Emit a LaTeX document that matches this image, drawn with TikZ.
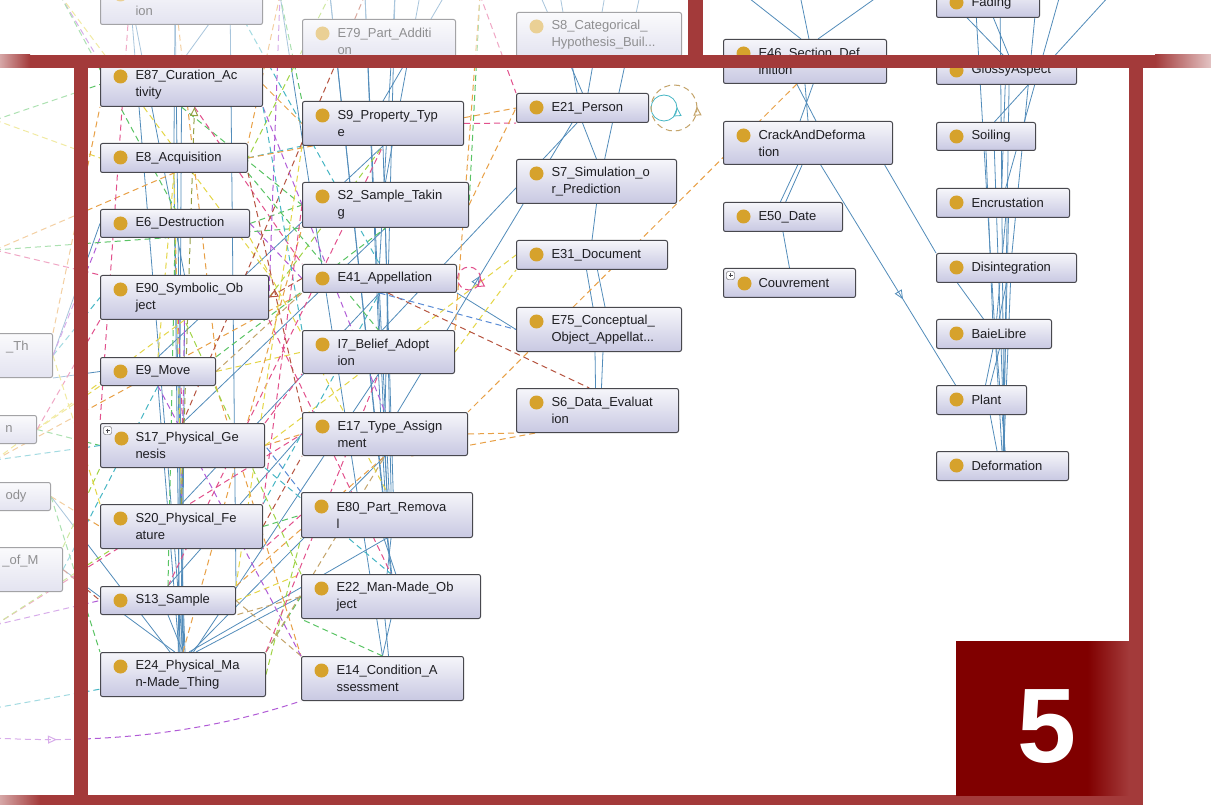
\documentclass[tikz,border=0pt]{standalone}
\usepackage{fontspec}
\setmainfont{Liberation Sans}
\usetikzlibrary{arrows.meta,decorations.markings}

\definecolor{frameRed}{RGB}{163,58,58}
\definecolor{deepRed}{RGB}{128,0,0}
\definecolor{boxEdge}{RGB}{72,72,78}
\definecolor{boxTop}{RGB}{246,246,250}
\definecolor{boxLav}{RGB}{200,200,226}
\definecolor{dotGold}{RGB}{214,162,44}
\definecolor{textDark}{RGB}{30,30,34}
\definecolor{edgeBlue}{RGB}{82,140,186}
\definecolor{dOrange}{RGB}{232,160,70}
\definecolor{dGreen}{RGB}{90,196,100}
\definecolor{dPink}{RGB}{226,80,140}
\definecolor{dYellow}{RGB}{228,214,70}
\definecolor{dPurple}{RGB}{176,90,214}
\definecolor{dTeal}{RGB}{70,182,196}
\definecolor{dBrown}{RGB}{182,84,64}
\definecolor{dLime}{RGB}{160,212,70}
\definecolor{dBlue}{RGB}{90,140,214}
\definecolor{dTan}{RGB}{196,164,106}
\definecolor{dOlive}{RGB}{150,160,70}

\pgfdeclarehorizontalshading{tileShade}{100bp}{color(0bp)=(deepRed); color(25bp)=(deepRed);
  color(63bp)=(deepRed); color(75bp)=(frameRed); color(100bp)=(frameRed)}

\pgfdeclarelayer{back}
\pgfdeclarelayer{front}
\pgfsetlayers{back,main,front}

\tikzset{
  cls/.style={draw=boxEdge, line width=1pt, rounded corners=2pt,
    top color=boxTop, bottom color=boxLav,
    anchor=north west, align=left, inner xsep=5pt, inner ysep=0pt,
    font=\fontsize{13}{17}\selectfont, text=textDark,
    execute at begin node={\leftskip=30pt\hyphenpenalty=10000\exhyphenpenalty=10000},
    path picture={\coordinate (pp) at (path picture bounding box.north west);
      \fill[dotGold] ([shift={(20,14)}]pp) circle (7pt);}},
  clsplus/.style={cls,
    path picture={\coordinate (pp) at (path picture bounding box.north west);
      \fill[dotGold] ([shift={(21,15)}]pp) circle (7pt);
      \draw[boxEdge, fill=white, line width=.4pt] ([shift={(3,3)}]pp) rectangle ++(8,8);
      \draw[boxEdge, line width=.5pt] ([shift={(5,7)}]pp) -- ++(4,0) ([shift={(7,5)}]pp) -- ++(0,4);}},
  cut/.style={draw=boxEdge, line width=1pt, rounded corners=2pt,
    top color=boxTop, bottom color=boxLav,
    anchor=north east, align=right, inner xsep=5pt, inner ysep=0pt, text width=140pt,
    font=\fontsize{13}{17}\selectfont, text=textDark,
    execute at begin node={\rightskip=19pt}},
  isa/.style={draw=edgeBlue, line width=.8pt},
  prop/.style={dash pattern=on 6pt off 4pt, line width=1pt},
  tip/.style={-{Triangle[open,length=9pt,width=8pt]}},
  midtip/.style={postaction={decorate}, decoration={markings,
    mark=at position #1 with {\arrow{Triangle[open,length=9pt,width=8pt]}}}},
}

\begin{document}
\begin{tikzpicture}[x=1pt, y=-1pt]

    \useasboundingbox (0,0) rectangle (1211,805);

    % 1. 类节点
    \foreach \nm/\x/\y/\w/\h/\txt in {
      ion/100/-20/162/44/{\vphantom{E}\\ion},
      e79/302/19/153/44/{E79\_Part\_Additi\\on},
      s8/516/12/165/44/{S8\_Categorical\_\\Hypothesis\_Buil...},
      e87/100/62/162/44/{E87\_Curation\_Ac\\tivity},
      e8/100/143/147/29/{E8\_Acquisition},
      e6/100/209/149/28/{E6\_Destruction},
      e90/100/275/168/44/{E90\_Symbolic\_Ob\\ject},
      e9/100/357/115/28/{E9\_Move},
      s20/100/504/162/44/{S20\_Physical\_Fe\\ature},
      s13/100/586/135/28/{S13\_Sample},
      e24/100/652/165/44/{E24\_Physical\_Ma\\n-Made\_Thing},
      s9/302/101/161/44/{S9\_Property\_Typ\\e},
      s2/302/182/166/45/{S2\_Sample\_Takin\\g},
      e41/302/264/154/28/{E41\_Appellation},
      i7/302/330/152/43/{I7\_Belief\_Adopt\\ion},
      e17/302/412/165/43/{E17\_Type\_Assign\\ment},
      e80/301/492/171/45/{E80\_Part\_Remova\\l},
      e22/301/574/179/44/{E22\_Man-Made\_Ob\\ject},
      e14/301/656/162/44/{E14\_Condition\_A\\ssessment},
      e21/516/93/132/29/{E21\_Person},
      s7/516/159/160/44/{S7\_Simulation\_o\\r\_Prediction},
      e31/516/240/151/29/{E31\_Document},
      e75/516/307/165/44/{E75\_Conceptual\_\\Object\_Appellat...},
      s6/516/388/162/44/{S6\_Data\_Evaluat\\ion},
      e46/723/39/163/44/{E46\_Section\_Def\\inition},
      crack/723/121/169/43/{CrackAndDeforma\\tion},
      e50/723/202/119/29/{E50\_Date},
      fading/936/-12/103/29/{Fading},
      glossy/936/56/140/28/{GlossyAspect},
      soiling/936/122/99/28/{Soiling},
      encrust/936/188/133/29/{Encrustation},
      disint/936/253/140/29/{Disintegration},
      baie/936/319/115/29/{BaieLibre},
      plant/936/385/90/29/{Plant},
      deform/936/451/132/29/{Deformation}}
      \node[cls, text width=\w-10, minimum height=\h] (\nm) at (\x,\y) {\txt};

    \node[clsplus, text width=154, minimum height=44] (s17) at (100,423) {S17\_Physical\_Ge\\nesis};
    \node[clsplus, text width=122, minimum height=29] (couv) at (723,268) {Couvrement};

    % 2. 左侧被截断的节点
    \node[cut, minimum height=44] (lth) at (53,333) {\_Th\\\vphantom{g}};
    \node[cut, minimum height=28] (ln) at (37,415) {n};
    \node[cut, minimum height=28] (lody) at (51,482) {ody};
    \node[cut, minimum height=44] (lofm) at (63,547) {\_of\_M\\\vphantom{g}};

    % 3. 画面外的连线端点
    \foreach \nm/\x/\y in {tA/130/-5, tB/175/-5, tC/230/-5, tD/330/-5, tE/365/-5,
      tF/395/-5, tG/420/-5, tH/445/-5, tI/540/-5, tJ/605/-5, tK/560/-5, tL/640/-5,
      tM/745/-5, tN/800/-5, tO/880/-5, tP/1000/-5, tQ/975/-5, tR/1037/-5,
      tS/1060/-5, tT/1110/-5, tU/945/-5, tV/60/-5, tW/280/-5, tX/480/-5,
      lP/-5/738, lQ/-5/708, lR/-5/120, lS/-5/250, lT/-5/460, lU/-5/625}
      \coordinate (\nm) at (\x,\y);

    \begin{pgfonlayer}{back}
      \fill[white] (0,0) rectangle (1211,805);

      % 4. 子类关系（蓝色实线）
      \foreach \a/\b in {e24.north/s13.south, e24.85/s20.south, e24.95/s17.south,
        e24.100/e9.south, e24.92/e90.south, e24.88/e6.south, e24.98/e8.south,
        e24.102/e87.south, e24.110/lofm.east, e24.120/lody.east, e24.75/e80.south,
        e24.70/e17.south, e24.65/i7.south, e24.60/e22.west, s13.north/e17.west,
        s20.north/e41.south, s17.north/s2.south, e9.north/s9.south, e90.north/tA,
        e8.north/tB, e87.north/tC, e6.west/lth.east, e9.west/lth.south east,
        e22.100/e80.280, e22.88/e80.272, e22.78/e80.262, e22.south/e14.north,
        e22.255/e14.75, e80.north/e17.south, e80.95/i7.south, e80.85/e41.south,
        e80.80/s2.south, e80.75/s9.south, e80.100/tD, i7.north/tE, e41.north/tF,
        s2.north/tG, s9.north/tH, i7.80/e21.250, e41.south east/e75.west,
        e31.250/e75.105, e31.290/e75.75, e75.260/s6.95, e75.280/s6.80,
        s7.north/e21.south, e31.north/s7.south, e21.north/tI, e21.70/tJ,
        e21.110/tK, s7.70/tL, e46.250/crack.70, e46.290/crack.110,
        e46.270/crack.north, e46.100/tM, e46.80/tN, e46.60/tO,
        crack.255/e50.80, crack.245/e50.100, e50.south/couv.north,
        crack.344/disint.north west, disint.197/baie.125, plant.300/deform.110,
        deform.80/baie.280, deform.85/disint.285, deform.88/encrust.290,
        deform.82/soiling.300, deform.86/glossy.280, deform.84/tP, deform.92/tQ,
        plant.60/baie.290, plant.75/disint.270, baie.80/encrust.280,
        baie.95/soiling.270, disint.70/tR, encrust.80/tS, soiling.60/tT,
        glossy.100/tU, glossy.80/fading.290, encrust.95/glossy.265,
        tB/s20.north, tD/e22.north, tE/e80.north, tF/e17.north,
        tC/s13.north east, tA/e24.north, tW/e14.north}
        \draw[isa] (\a) -- (\b);
      \draw[isa, midtip=.61] (crack.300) -- (plant.150);
      \draw[isa, midtip=.47] (e17.60) -- (e21.235);

      % 5. 对象属性（彩色虚线）
      \foreach \a/\b/\c in {e87.south/s2.west/dGreen, e87.east/s9.west/dOrange,
        e87.300/e41.north west/dPink, e8.east/s9.south west/dTeal,
        e8.east/e21.west/dOrange, e8.south/e9.north/dYellow, e6.east/s2.west/dGreen,
        e6.east/e41.west/dPurple, e6.south/s17.north/dPink, e90.east/s9.south/dLime,
        e90.south/s20.north/dPurple, e9.east/i7.west/dYellow,
        e9.east/e41.south west/dTan, e9.north east/s2.south/dGreen,
        s17.east/e17.west/dOrange, s17.north east/i7.south west/dPink,
        s17.east/e31.west/dYellow, s20.east/e17.south west/dBrown,
        s20.north east/e41.south/dTeal, s20.east/e80.west/dGreen,
        s13.east/e22.north west/dYellow, s13.north east/e17.south/dOrange,
        s13.north/s9.south/dPink, e24.north east/e22.west/dGreen,
        e24.east/e80.south west/dLime, e24.north east/e17.south/dTan,
        lth.east/e90.west/dTeal, lth.east/e6.south west/dPurple,
        ln.east/s17.west/dGreen, ln.east/e9.south west/dYellow,
        lody.east/s20.west/dOrange, lofm.east/s13.west/dBrown,
        lofm.north east/s17.south west/dLime, i7.east/e31.south west/dYellow,
        e41.300/s6.110/dBrown, e41.south/e75.west/dBlue,
        e17.east/s6.south west/dOrange, e17.320/s6.200/dOrange,
        e80.west/s20.south east/dPink, e22.west/s13.south east/dTan,
        e14.north/e22.south west/dGreen, e14.north west/s13.east/dTan,
        s9.east/e21.south west/dPink, s2.east/e21.west/dOrange,
        e46.250/e17.north east/dOrange, tV/e87.north west/dPurple,
        tW/s9.north west/dGreen, tX/e21.north west/dPink, tW/e8.north east/dOrange,
        lR/e8.west/dYellow, lS/e90.north west/dPink, lT/s17.west/dTeal,
        lU/s13.west/dPurple, lR/e87.west/dGreen, lQ/e24.190/dTeal,
        lS/e8.south/dOrange, lS/s2.south west/dGreen, lT/e90.south/dYellow,
        lT/e41.south west/dOrange, lU/e17.west/dPink, lU/s20.north/dLime,
        tV/e6.north/dGreen, tV/e90.north east/dYellow, tA/s17.north west/dPink,
        tB/e9.north east/dOrange, tC/e41.north/dTeal, tW/e90.east/dPurple,
        tD/e8.east/dLime, tE/s17.north/dBrown, tX/s2.east/dGreen,
        tX/i7.north east/dOrange, e87.south east/e17.north/dPurple,
        e8.south east/i7.north/dGreen, e6.south east/e80.north/dYellow,
        e90.south east/e22.north/dPink, e9.south east/e14.north west/dOrange,
        s17.south east/e22.north/dTeal, s20.north/e8.south/dYellow,
        s13.north/e6.south/dGreen, e24.north/s2.south west/dOrange,
        e24.north east/i7.south/dPink, e14.north west/e9.south/dPurple,
        e22.north west/e90.south/dLime, e80.north west/s17.east/dBlue,
        e17.north west/e8.south east/dBrown, i7.north west/e87.south east/dTeal,
        s2.west/s20.north east/dPink, s9.south west/s13.north east/dYellow,
        lth.north east/e87.south west/dOrange, ln.east/e90.south west/dPink,
        lody.east/e24.north west/dGreen, lofm.east/e9.south/dTeal,
        lth.east/s20.north west/dYellow, lR/lth.north/dPurple}
        \draw[prop, \c] (\a) -- (\b);
      \draw[prop, dBrown, tip] (e41.west) -- (e90.east);
      \draw[prop, dOlive, tip] (s20.north) -- (e87.300);
      \draw[prop, dPurple, midtip=.2] (lP) .. controls (120,745) and (220,728) .. (e14.south west);

      % 6. 自环
      \draw[dTeal, line width=.8pt, midtip=.01] ([xshift=15pt]e21.east) circle (13pt);
      \draw[prop, dTan, midtip=.01] ([xshift=25pt]e21.east) circle (23pt);
      \draw[prop, dPink, midtip=.01] ([xshift=12pt]e41.east) circle (11.5pt);
    \end{pgfonlayer}

    \begin{pgfonlayer}{front}
      % 7. 框外淡化
      \fill[white, opacity=.5] (-1,-1) rectangle (688,55);
      \fill[white, opacity=.5] (-1,68) rectangle (74,806);

      % 8. 红色边框
      \fill[frameRed] (30,55) rectangle (1155,68);
      \shade[left color=frameRed!45, right color=frameRed] (0,55) rectangle (30,68);
      \shade[left color=frameRed, right color=frameRed!30] (1155,55) rectangle (1211,68);
      \fill[frameRed] (688,0) rectangle (703,55);
      \fill[frameRed] (74,68) rectangle (88,805);
      \fill[frameRed] (1129,68) rectangle (1143,805);
      \fill[frameRed] (40,795) rectangle (1143,805);
      \shade[left color=frameRed!45, right color=frameRed] (0,795) rectangle (40,805);

      % 9. 编号方块
      \shade[shading=tileShade] (956,641) rectangle (1129,795);
      \node[font=\fontsize{106}{106}\bfseries\selectfont, text=white] (num) at (1047,727) {5};
    \end{pgfonlayer}

\end{tikzpicture}
\end{document}
